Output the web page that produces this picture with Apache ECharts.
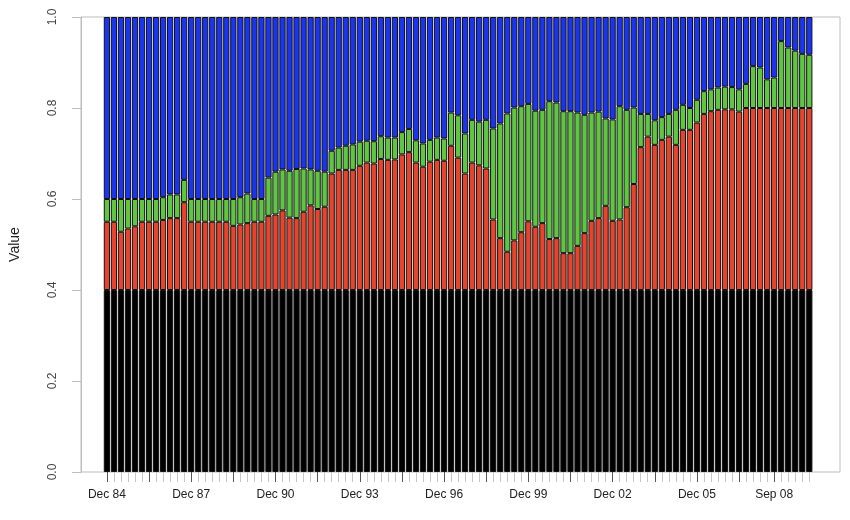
<!DOCTYPE html>
<html>
<head>
<meta charset="utf-8">
<script src="https://cdn.jsdelivr.net/npm/echarts@6/dist/echarts.min.js"></script>
<style>
html,body{margin:0;padding:0;background:#fff;}
#chart{width:850px;height:520px;}
</style>
</head>
<body>
<div id="chart"></div>
<script>
var categories = [
"Dec 84",
"Mar 85","Jun 85","Sep 85","Dec 85","Mar 86","Jun 86","Sep 86","Dec 86",
"Mar 87","Jun 87","Sep 87","Dec 87","Mar 88","Jun 88","Sep 88","Dec 88",
"Mar 89","Jun 89","Sep 89","Dec 89","Mar 90","Jun 90","Sep 90","Dec 90",
"Mar 91","Jun 91","Sep 91","Dec 91","Mar 92","Jun 92","Sep 92","Dec 92",
"Mar 93","Jun 93","Sep 93","Dec 93","Mar 94","Jun 94","Sep 94","Dec 94",
"Mar 95","Jun 95","Sep 95","Dec 95","Mar 96","Jun 96","Sep 96","Dec 96",
"Mar 97","Jun 97","Sep 97","Dec 97","Mar 98","Jun 98","Sep 98","Dec 98",
"Mar 99","Jun 99","Sep 99","Dec 99","Mar 00","Jun 00","Sep 00","Dec 00",
"Mar 01","Jun 01","Sep 01","Dec 01","Mar 02","Jun 02","Sep 02","Dec 02",
"Mar 03","Jun 03","Sep 03","Dec 03","Mar 04","Jun 04","Sep 04","Dec 04",
"Mar 05","Jun 05","Sep 05","Dec 05","Mar 06","Jun 06","Sep 06","Dec 06",
"Mar 07","Jun 07","Sep 07","Dec 07","Mar 08","Jun 08","Sep 08","Dec 08",
"Mar 09","Jun 09","Sep 09","Dec 09"
];

// indices of major ticks and of labelled ticks on the x axis
var majorTickIdx = [0,6,12,18,24,30,36,42,48,54,60,66,72,78,84,90,95];
var labelIdx = [0,12,24,36,48,60,72,84,95];

var yTicks = [0, 0.2, 0.4, 0.6, 0.8, 1.0];

var blackVals = [
0.4,0.4,0.4,0.4,0.4,0.4,0.4,0.4,0.4,0.4,
0.4,0.4,0.4,0.4,0.4,0.4,0.4,0.4,0.4,0.4,
0.4,0.4,0.4,0.4,0.4,0.4,0.4,0.4,0.4,0.4,
0.4,0.4,0.4,0.4,0.4,0.4,0.4,0.4,0.4,0.4,
0.4,0.4,0.4,0.4,0.4,0.4,0.4,0.4,0.4,0.4,
0.4,0.4,0.4,0.4,0.4,0.4,0.4,0.4,0.4,0.4,
0.4,0.4,0.4,0.4,0.4,0.4,0.4,0.4,0.4,0.4,
0.4,0.4,0.4,0.4,0.4,0.4,0.4,0.4,0.4,0.4,
0.4,0.4,0.4,0.4,0.4,0.4,0.4,0.4,0.4,0.4,
0.4,0.4,0.4,0.4,0.4,0.4,0.4,0.4,0.4,0.4,
0.4
];

var redVals = [
0.150,0.150,0.128,0.135,0.140,0.150,0.150,0.150,0.154,0.158,
0.158,0.193,0.150,0.150,0.150,0.150,0.150,0.150,0.141,0.144,
0.147,0.150,0.150,0.163,0.166,0.175,0.159,0.158,0.172,0.186,
0.178,0.183,0.256,0.264,0.264,0.264,0.273,0.280,0.278,0.288,
0.286,0.287,0.298,0.303,0.280,0.271,0.282,0.286,0.284,0.317,
0.291,0.256,0.280,0.274,0.267,0.155,0.114,0.084,0.109,0.127,
0.151,0.139,0.147,0.112,0.114,0.081,0.081,0.097,0.125,0.152,
0.158,0.185,0.152,0.155,0.182,0.233,0.314,0.337,0.319,0.330,
0.337,0.319,0.352,0.352,0.368,0.387,0.393,0.396,0.397,0.397,
0.392,0.400,0.400,0.400,0.400,0.400,0.400,0.400,0.400,0.400,
0.400
];

var greenVals = [
0.050,0.050,0.072,0.065,0.060,0.050,0.050,0.050,0.050,0.052,
0.052,0.049,0.050,0.050,0.050,0.050,0.050,0.050,0.059,0.060,
0.065,0.050,0.050,0.084,0.094,0.090,0.103,0.108,0.095,0.079,
0.084,0.077,0.050,0.049,0.053,0.056,0.053,0.048,0.049,0.050,
0.049,0.048,0.049,0.051,0.049,0.051,0.048,0.049,0.049,0.073,
0.093,0.088,0.094,0.096,0.107,0.200,0.252,0.304,0.292,0.277,
0.258,0.255,0.249,0.303,0.298,0.312,0.312,0.293,0.260,0.238,
0.234,0.192,0.223,0.249,0.214,0.168,0.073,0.050,0.054,0.050,
0.050,0.077,0.055,0.048,0.050,0.050,0.048,0.049,0.050,0.049,
0.049,0.053,0.092,0.089,0.063,0.067,0.147,0.133,0.126,0.119,
0.117
];

var blueVals = [
0.400,0.400,0.400,0.400,0.400,0.400,0.400,0.400,0.396,0.390,
0.390,0.358,0.400,0.400,0.400,0.400,0.400,0.400,0.400,0.396,
0.388,0.400,0.400,0.353,0.340,0.335,0.338,0.334,0.333,0.335,
0.338,0.340,0.294,0.287,0.283,0.280,0.274,0.272,0.273,0.262,
0.265,0.265,0.253,0.246,0.271,0.278,0.270,0.265,0.267,0.210,
0.216,0.256,0.226,0.230,0.226,0.245,0.234,0.212,0.199,0.196,
0.191,0.206,0.204,0.185,0.188,0.207,0.207,0.210,0.215,0.210,
0.208,0.223,0.225,0.196,0.204,0.199,0.213,0.213,0.227,0.220,
0.213,0.204,0.193,0.200,0.182,0.163,0.159,0.155,0.153,0.154,
0.159,0.147,0.108,0.111,0.137,0.133,0.053,0.067,0.074,0.081,
0.083
];

var FONT = '"Liberation Sans", Arial, Helvetica, sans-serif';
var chart = echarts.init(document.getElementById('chart'), null, {renderer: 'canvas'});

function barSeries(name, vals, color) {
  return {
    name: name, type: 'bar', stack: 'total', xAxisIndex: 1, yAxisIndex: 1,
    data: vals, barCategoryGap: '11%',
    itemStyle: {color: color, borderColor: '#111', borderWidth: 1},
    emphasis: {disabled: true}, silent: true
  };
}

var option = {
  animation: false,
  backgroundColor: '#fff',
  grid: [
    {left: 76, right: 10, top: 17, bottom: 48, show: true, borderColor: '#bdbdbd', borderWidth: 1, backgroundColor: 'transparent'},
    {left: 103.4, right: 37.2, top: 17, bottom: 48},
    {left: 103.4, right: 37.2, top: 17, bottom: 48}
  ],
  xAxis: [
    {type: 'value', gridIndex: 0, min: 0, max: 1, show: false},
    {type: 'category', gridIndex: 1, data: categories, boundaryGap: true,
     axisLine: {show: false},
     axisTick: {show: true, alignWithLabel: true, interval: 0, length: 10, lineStyle: {color: '#c8c8c8', width: 1}},
     axisLabel: {show: false}, splitLine: {show: false}},
    {type: 'category', gridIndex: 2, data: categories, boundaryGap: true,
     axisLine: {show: false},
     axisTick: {show: true, alignWithLabel: true, length: 10, lineStyle: {color: '#555', width: 1},
       interval: function (idx) { return majorTickIdx.indexOf(idx) >= 0; }},
     axisLabel: {show: true, margin: 17, fontSize: 12, color: '#222', fontFamily: FONT,
       interval: function (idx) { return labelIdx.indexOf(idx) >= 0; }},
     splitLine: {show: false}}
  ],
  yAxis: [
    {type: 'value', gridIndex: 0, min: yTicks[0], max: yTicks[yTicks.length - 1], interval: 0.2,
     name: 'Value', nameLocation: 'middle', nameGap: 59, nameRotate: 90,
     nameTextStyle: {fontSize: 14, color: '#222', fontFamily: FONT},
     axisLine: {show: true, lineStyle: {color: '#bdbdbd'}},
     axisTick: {show: true, length: 9, lineStyle: {color: '#bdbdbd'}},
     axisLabel: {rotate: 90, margin: 22, fontSize: 12, color: '#444', fontFamily: FONT,
       formatter: function (v) { return v.toFixed(1); }},
     splitLine: {show: false}},
    {type: 'value', gridIndex: 1, min: 0, max: 1, show: false},
    {type: 'value', gridIndex: 2, min: 0, max: 1, show: false}
  ],
  series: [
    barSeries('Black', blackVals, '#000000'),
    barSeries('Red', redVals, '#E8432B'),
    barSeries('Green', greenVals, '#5DC83F'),
    barSeries('Blue', blueVals, '#1A35F2')
  ]
};
chart.setOption(option);
</script>
</body>
</html>
